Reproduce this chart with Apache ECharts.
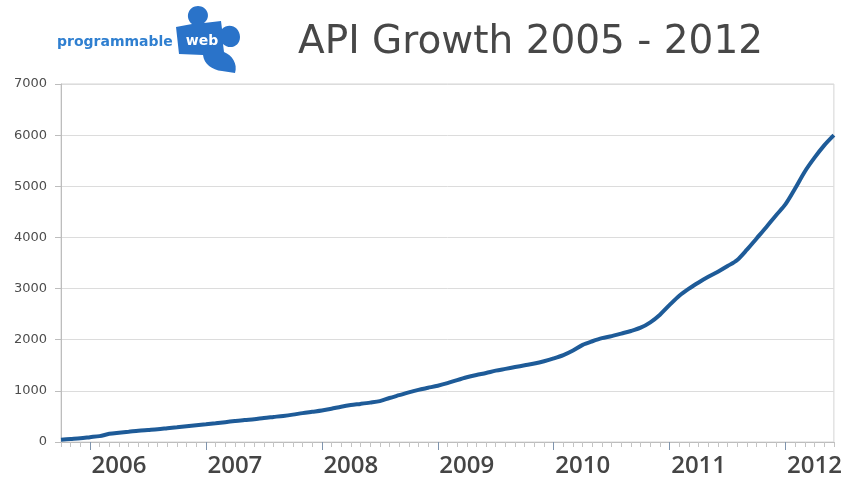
<!DOCTYPE html>
<html>
<head>
<meta charset="utf-8">
<script src="https://cdn.jsdelivr.net/npm/echarts@6/dist/echarts.min.js"></script>
<style>
html,body{margin:0;padding:0;background:#fff;}
#chart{width:845px;height:479px;}
</style>
</head>
<body>
<div id="chart"></div>
<script>
// Month categories from Oct 2005 to Jun 2012
const firstMonth = [2005, 10];
const monthCount = 81;
const months = [];
for (let i = 0; i < monthCount; i++) {
  const t = firstMonth[0] * 12 + (firstMonth[1] - 1) + i;
  const y = Math.floor(t / 12), m = (t % 12) + 1;
  months.push(y + '-' + (m < 10 ? '0' + m : m));
}
// Year labels on the x axis
const yearLabels = ['2006', '2007', '2008', '2009', '2010', '2011', '2012'];
// Y-axis tick labels
const yTicks = [0, 1000, 2000, 3000, 4000, 5000, 6000, 7000];
// Number of APIs, one value per month
const apiCount = [
  45, 60, 75,
  95, 115, 160, 182, 200, 220, 235, 250, 270, 290, 310, 328,
  345, 365, 388, 410, 430, 445, 470, 490, 510, 535, 565, 590,
  615, 650, 690, 722, 745, 770, 800, 860, 915, 970, 1020, 1060,
  1100, 1150, 1210, 1265, 1310, 1350, 1395, 1430, 1465, 1500, 1535, 1580,
  1635, 1700, 1790, 1900, 1970, 2030, 2070, 2120, 2170, 2235, 2340, 2490,
  2680, 2860, 3000, 3120, 3230, 3330, 3440, 3560, 3760, 3980, 4200, 4430,
  4650, 4960, 5290, 5560, 5800, 6000
];
const titleText = 'API Growth 2005 - 2012';

const chart = echarts.init(document.getElementById('chart'), null, {renderer: 'canvas'});

const puzzlePath =
  'M 176 27 L 192 24 C 184 17 189 6 198 6 C 207 6 212 17 204 23 L 221 21 L 222 29 ' +
  'C 229 22 240 27 240 37 C 240 47 229 50 223 44 L 224 52 C 232 55 238 64 235 73 ' +
  'L 222 71 C 212 70 204 64 203 55 L 179 54 Z';

const option = {
  backgroundColor: '#ffffff',
  animation: false,
  grid: {
    left: 61, right: 10, top: 84, bottom: 37,
    show: true, borderColor: '#d4d4d4', borderWidth: 1, backgroundColor: 'transparent'
  },
  graphic: [
    {
      type: 'text', x: 57, y: 42,
      style: {
        text: 'programmable', fill: '#2f7fd0',
        font: 'bold 14px "DejaVu Sans"', textVerticalAlign: 'middle'
      }
    },
    {
      type: 'text', x: 298, y: 43,
      style: {
        text: titleText, fill: '#474747',
        font: '39px "DejaVu Sans"', textVerticalAlign: 'middle'
      }
    }
  ],
  xAxis: [
    {
      type: 'category',
      data: months,
      boundaryGap: false,
      axisLine: {show: true, lineStyle: {color: '#bdbdbd', width: 1}},
      axisTick: {show: true, interval: 0, length: 5, lineStyle: {color: '#c4c4c4'}},
      axisLabel: {
        show: true,
        interval: function (idx, val) { return val.slice(5) === '04'; },
        formatter: function (val) {
          const y = val.slice(0, 4);
          return yearLabels.indexOf(y) >= 0 ? y : '';
        },
        margin: 12,
        fontFamily: 'Open Sans', fontWeight: 600, fontSize: 24, color: '#454545'
      },
      splitLine: {show: false}
    },
    {
      type: 'category',
      data: months,
      boundaryGap: false,
      position: 'bottom',
      axisLine: {show: false},
      axisTick: {
        show: true, length: 8,
        interval: function (idx, val) { return val.slice(5) === '01'; },
        lineStyle: {color: '#7f94ad', width: 1}
      },
      axisLabel: {show: false},
      splitLine: {show: false}
    }
  ],
  yAxis: {
    type: 'value',
    min: yTicks[0], max: yTicks[yTicks.length - 1], interval: 1000,
    axisLine: {show: true, lineStyle: {color: '#bdbdbd'}},
    axisTick: {show: true, length: 6, lineStyle: {color: '#bdbdbd'}},
    axisLabel: {
      margin: 14, fontFamily: 'DejaVu Sans', fontSize: 13, color: '#4d4d4d',
      formatter: function (v) { return String(v); }
    },
    splitLine: {show: true, lineStyle: {color: '#dcdcdc', width: 1}}
  },
  series: [
    {
      type: 'line',
      xAxisIndex: 0,
      data: apiCount,
      showSymbol: false,
      smooth: 0.3,
      lineStyle: {color: '#1e5b98', width: 4},
      z: 5
    },
    {
      type: 'custom',
      coordinateSystem: 'none',
      data: [0],
      silent: true,
      renderItem: function () {
        return {
          type: 'group',
          children: [
            {
              type: 'path',
              shape: {pathData: puzzlePath},
              style: {fill: '#2a73c9'}
            },
            {
              type: 'text', x: 202, y: 41,
              style: {
                text: 'web', fill: '#ffffff',
                font: 'bold 14px "DejaVu Sans"', align: 'center', verticalAlign: 'middle'
              }
            }
          ]
        };
      }
    }
  ]
};
chart.setOption(option);
</script>
</body>
</html>
